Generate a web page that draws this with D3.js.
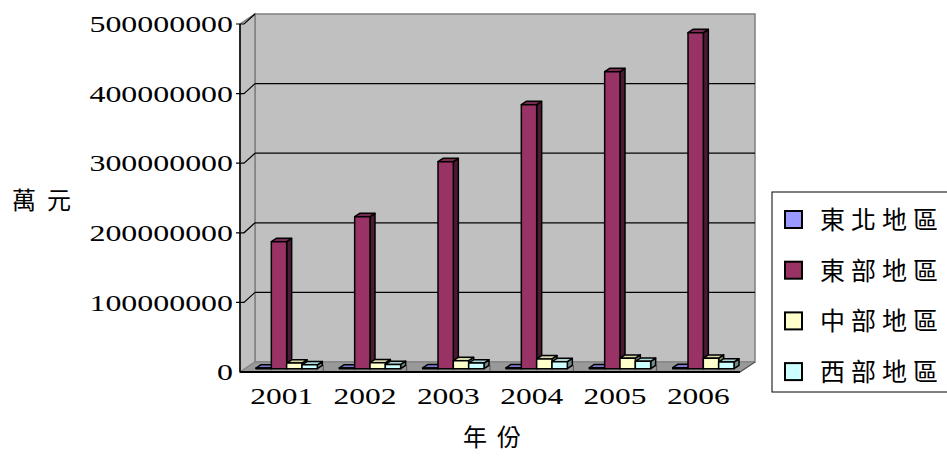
<!DOCTYPE html>
<html>
<head>
<meta charset="utf-8">
<script src="https://cdn.jsdelivr.net/npm/d3@7/dist/d3.min.js"></script>
<style>
  html, body { margin: 0; padding: 0; background: #fff; }
  svg { display: block; }
</style>
</head>
<body>
<svg id="chart" width="947" height="463"></svg>
<script>
// Regional totals (萬元), 2001–2006
const years = ["2001", "2002", "2003", "2004", "2005", "2006"];
const seriesNames = ["東北地區", "東部地區", "中部地區", "西部地區"];
const northeast = [900000, 1000000, 1100000, 1200000, 1300000, 1400000];
const east = [182500000, 218400000, 297400000, 379300000, 426700000, 482800000];
const central = [8000000, 8500000, 11500000, 14000000, 15000000, 15000000];
const west = [5500000, 6000000, 8000000, 10000000, 10500000, 9500000];
const yTicks = [0, 100000000, 200000000, 300000000, 400000000, 500000000];

const seriesValues = [northeast, east, central, west];
const palette = [
  { front: "#9999FF", top: "#7A7ACC", side: "#4D4D80" },
  { front: "#993366", top: "#7A2952", side: "#4D1A33" },
  { front: "#FFFFCC", top: "#D6D6A8", side: "#8C8C70" },
  { front: "#CCFFFF", top: "#A8D6D6", side: "#708C8C" }
];

const svg = d3.select("#chart");

// Front plane scales plus an oblique depth offset for the 3-D box
const left = 240, right = 740;
const x0 = d3.scaleBand().domain(years).range([left, right]).padding(0);
const x1 = d3.scaleBand().domain(seriesNames).range([11, x0.bandwidth() - 11]).padding(0);
const y = d3.scaleLinear().domain([0, 500000000]).range([372, 24]);
const DX = 15, DY = -10;          // full wall depth
const d0 = 1 / 3, d1 = 2 / 3;     // bar depth span

const pts = a => a.map(p => p.join(",")).join(" ");

// Back wall
svg.append("polygon")
  .attr("points", pts([[left + DX, y(500000000) + DY], [right + DX, y(500000000) + DY],
                       [right + DX, y(0) + DY], [left + DX, y(0) + DY]]))
  .attr("fill", "#C0C0C0").attr("stroke", "#808080").attr("stroke-width", 1.5);

// Side wall
svg.append("polygon")
  .attr("points", pts([[left, y(500000000)], [left + DX, y(500000000) + DY],
                       [left + DX, y(0) + DY], [left, y(0)]]))
  .attr("fill", "#C0C0C0").attr("stroke", "#808080").attr("stroke-width", 1.5);

// Floor
svg.append("polygon")
  .attr("points", pts([[left, y(0)], [left + DX, y(0) + DY], [right + DX, y(0) + DY], [right, y(0)]]))
  .attr("fill", "#999999").attr("stroke", "#808080").attr("stroke-width", 1);

// Gridlines on back wall and side wall
const grid = svg.append("g").attr("stroke", "#000").attr("stroke-width", 1.2).attr("fill", "none");
yTicks.filter(t => t > 0 && t < 500000000).forEach(t => {
  grid.append("line")
    .attr("x1", left + DX).attr("x2", right + DX)
    .attr("y1", y(t) + DY).attr("y2", y(t) + DY);
});
yTicks.filter(t => t > 0).forEach(t => {
  grid.append("polyline")
    .attr("points", pts([[left - 4, y(t)], [left + 4, y(t)], [left + DX, y(t) + DY]]));
});

// Category tick marks on floor edge
const catTicks = svg.append("g").attr("stroke", "#555").attr("stroke-width", 1);
years.slice(1).forEach(yr => {
  catTicks.append("line")
    .attr("x1", x0(yr)).attr("x2", x0(yr))
    .attr("y1", y(0) - 7).attr("y2", y(0) + 1);
});

// Bars
const bdx = DX * (d1 - d0), bdy = DY * (d1 - d0);
const bars = svg.append("g").attr("stroke", "#000").attr("stroke-width", 1.5).attr("stroke-linejoin", "round");
years.forEach((yr, i) => {
  seriesNames.forEach((s, k) => {
    const v = seriesValues[k][i];
    const w = x1.bandwidth();
    const bx = x0(yr) + x1(s) + DX * d0;
    const yt = y(v) + DY * d0;
    const yb = y(0) + DY * d0;
    const c = palette[k];
    bars.append("polygon")
      .attr("points", pts([[bx + w, yt], [bx + w + bdx, yt + bdy], [bx + w + bdx, yb + bdy], [bx + w, yb]]))
      .attr("fill", c.side);
    bars.append("polygon")
      .attr("points", pts([[bx, yt], [bx + w, yt], [bx + w + bdx, yt + bdy], [bx + bdx, yt + bdy]]))
      .attr("fill", c.top);
    bars.append("rect")
      .attr("x", bx).attr("y", yt)
      .attr("width", w).attr("height", Math.max(0.5, yb - yt))
      .attr("fill", c.front);
  });
});

// Axis lines
svg.append("line").attr("x1", left).attr("x2", left)
  .attr("y1", y(500000000)).attr("y2", y(0))
  .attr("stroke", "#000").attr("stroke-width", 1.5);
svg.append("line").attr("x1", left).attr("x2", right)
  .attr("y1", y(0)).attr("y2", y(0))
  .attr("stroke", "#000").attr("stroke-width", 2);
svg.append("line").attr("x1", right).attr("x2", right + DX)
  .attr("y1", y(0)).attr("y2", y(0) + DY)
  .attr("stroke", "#555").attr("stroke-width", 1.2);

// Value axis labels
const serif = "'Liberation Serif', 'Times New Roman', serif";
const cjk = "'Noto Sans CJK TC', 'Noto Sans CJK SC', sans-serif";
yTicks.forEach(t => {
  svg.append("g")
    .attr("transform", `translate(233,${y(t)}) scale(1.33,1)`)
    .append("text")
    .attr("text-anchor", "end")
    .attr("dy", "0.34em")
    .attr("font-family", serif)
    .attr("font-size", 24)
    .attr("fill", "#000")
    .text(String(t));
});

// Category labels
years.forEach(yr => {
  svg.append("g")
    .attr("transform", `translate(${x0(yr) + x0.bandwidth() / 2},404) scale(1.31,1)`)
    .append("text")
    .attr("text-anchor", "middle")
    .attr("font-family", serif)
    .attr("font-size", 24)
    .attr("fill", "#000")
    .text(yr);
});

// Axis titles
svg.append("text")
  .attr("x", 12).attr("y", 200).attr("dy", "0.36em")
  .attr("font-family", cjk).attr("font-size", 24)
  .attr("letter-spacing", 11)
  .text("萬元");
svg.append("text")
  .attr("x", 463).attr("y", 437).attr("dy", "0.36em")
  .attr("font-family", cjk).attr("font-size", 24)
  .attr("letter-spacing", 10)
  .text("年份");

// Legend
const legend = svg.append("g");
legend.append("rect")
  .attr("x", 772).attr("y", 192).attr("width", 180).attr("height", 200)
  .attr("fill", "#fff").attr("stroke", "#000").attr("stroke-width", 1);
seriesNames.forEach((s, k) => {
  const cy = 220 + k * 50.7;
  legend.append("rect")
    .attr("x", 785).attr("y", cy - 9).attr("width", 17).attr("height", 17)
    .attr("fill", palette[k].front).attr("stroke", "#000").attr("stroke-width", 2);
  legend.append("text")
    .attr("x", 820).attr("y", cy).attr("dy", "0.36em")
    .attr("font-family", cjk).attr("font-size", 25)
    .attr("letter-spacing", 6)
    .text(s);
});
</script>
</body>
</html>
